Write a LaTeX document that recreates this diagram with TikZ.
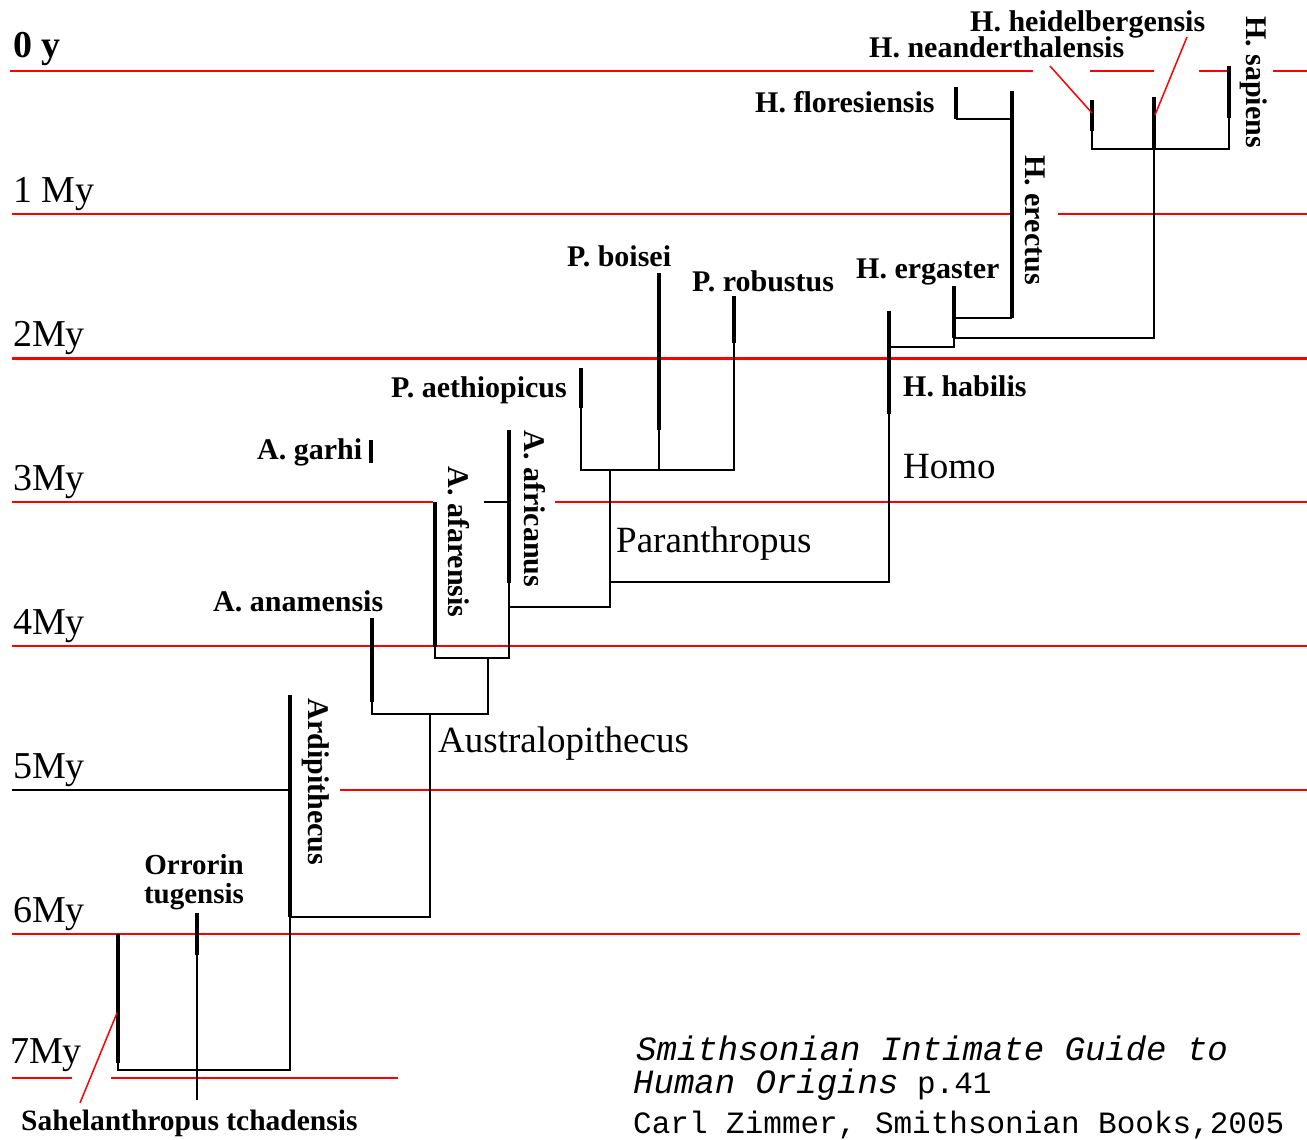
\documentclass[tikz,border=0pt]{standalone}
\usepackage{fontspec}
\setmainfont{Liberation Serif}
\setmonofont{Liberation Mono}
\usetikzlibrary{positioning,calc}
\tikzset{
species/.style  = {font=\bfseries\fontsize{30}{27}\selectfont, inner sep=0pt},
genus/.style    = {font=\fontsize{37}{40}\selectfont, inner sep=0pt, anchor=base west},
era/.style      = {font=\fontsize{38}{40}\selectfont, inner sep=0pt, anchor=base west},
cite/.style     = {font=\ttfamily\fontsize{31}{33}\selectfont, inner sep=0pt, anchor=base west},
tmp/.style      = {coordinate},
bar/.style      = {line width=4.5pt},
link/.style     = {line width=2pt},
timeline/.style = {red, line width=2pt},
pointer/.style  = {red, line width=1.5pt}
}

\begin{document}
\begin{tikzpicture}[x=1pt, y=-1pt]
  \useasboundingbox (0,0) rectangle (1307,1140);

  % time scale
  \draw [timeline] (10,71) -- (1033,71) (1090,71) -- (1154,71) (1199,71) -- (1227,71) (1273,71) -- (1307,71);
  \draw [timeline] (12,214) -- (1010,214) (1058,214) -- (1307,214);
  \draw [timeline, line width=3pt] (12,358) -- (1307,358);
  \draw [timeline] (12,502) -- (433,502) (555,502) -- (1307,502);
  \draw [timeline] (12,646) -- (1307,646);
  \draw [timeline] (340,790) -- (1307,790);
  \draw [timeline] (12,934) -- (1300,934);
  \draw [timeline] (12,1078) -- (72,1078) (111,1078) -- (398,1078);

  \node [era, font=\bfseries\fontsize{38}{40}\selectfont] (era0) at (13,58) {0 y};
  \foreach \t/\lab in {1/1 My, 2/2My, 3/3My, 4/4My, 5/5My, 6/6My}
    \node [era] (era\t) at (13, 58+144*\t) {\lab};
  \node [era] (era7) at (10,1063) {7My};

  % branch points
  \node [tmp] (sahT) at (118,934) {};
  \node [tmp] (sahM) at (118,1063) {};
  \node [tmp] (sahB) at (118,1070) {};
  \node [tmp] (orrT) at (197,913) {};
  \node [tmp] (orrM) at (197,955) {};
  \node [tmp] (orrB) at (197,1100) {};
  \node [tmp] (ardT) at (290,695) {};
  \node [tmp] (ardB) at (290,917) {};
  \node [tmp] (ardL) at (290,790) {};
  \node [tmp] (ardE) at (12,790) {};
  \node [tmp] (ausJ) at (430,714) {};
  \node [tmp] (anaT) at (372,618) {};
  \node [tmp] (anaM) at (372,702) {};
  \node [tmp] (anaB) at (372,714) {};
  \node [tmp] (garT) at (371,440) {};
  \node [tmp] (garB) at (371,463) {};
  \node [tmp] (afaJ) at (488,658) {};
  \node [tmp] (afaT) at (435,502) {};
  \node [tmp] (afaM) at (435,647) {};
  \node [tmp] (afaB) at (435,658) {};
  \node [tmp] (afcT) at (509,430) {};
  \node [tmp] (afcM) at (509,583) {};
  \node [tmp] (afcB) at (509,658) {};
  \node [tmp] (afcS) at (484,502) {};
  \node [tmp] (afcK) at (509,502) {};
  \node [tmp] (afcJ) at (509,607) {};
  \node [tmp] (parJ) at (610,470) {};
  \node [tmp] (homJ) at (610,582) {};
  \node [tmp] (aetT) at (581,368) {};
  \node [tmp] (aetM) at (581,408) {};
  \node [tmp] (aetB) at (581,470) {};
  \node [tmp] (boiT) at (659,273) {};
  \node [tmp] (boiM) at (659,430) {};
  \node [tmp] (boiB) at (659,470) {};
  \node [tmp] (robT) at (734,296) {};
  \node [tmp] (robM) at (734,343) {};
  \node [tmp] (robB) at (734,470) {};
  \node [tmp] (habT) at (889,311) {};
  \node [tmp] (habM) at (889,414) {};
  \node [tmp] (habJ) at (889,347) {};
  \node [tmp] (ergT) at (954,286) {};
  \node [tmp] (ergM) at (954,338) {};
  \node [tmp] (ergJ) at (954,318) {};
  \node [tmp] (ereT) at (1012,91) {};
  \node [tmp] (ereB) at (1012,318) {};
  \node [tmp] (ereJ) at (1012,119) {};
  \node [tmp] (floT) at (956,87) {};
  \node [tmp] (floB) at (956,119) {};
  \node [tmp] (heiT) at (1154,97) {};
  \node [tmp] (heiB) at (1154,149) {};
  \node [tmp] (neaT) at (1092,100) {};
  \node [tmp] (neaM) at (1092,131) {};
  \node [tmp] (neaB) at (1092,149) {};
  \node [tmp] (sapT) at (1229,66) {};
  \node [tmp] (sapM) at (1229,118) {};
  \node [tmp] (sapB) at (1229,149) {};
  \node [tmp] (neaQ) at (1050,66) {};
  \node [tmp] (neaP) at (1092,113) {};
  \node [tmp] (heiQ) at (1187,37) {};
  \node [tmp] (heiP) at (1155,115) {};
  \node [tmp] (sahQ) at (80,1103) {};
  \node [tmp] (sahP) at (117,1013) {};

  % labels
  \node [species, anchor=base west] (heid) at (970,32)   {H. heidelbergensis};
  \node [species, anchor=base west] (nean) at (869,58)   {H. neanderthalensis};
  \node [species, rotate=-90]       (sapi) at (1254,82)  {H. sapiens};
  \node [species, anchor=base west] (flor) at (755,113)  {H. floresiensis};
  \node [species, rotate=-90]       (erec) at (1035,220) {H. erectus};
  \node [species, anchor=base west] (erga) at (856,278)  {H. ergaster};
  \node [species, anchor=base west] (habi) at (903,396)  {H. habilis};
  \node [genus]                     (homo) at (903,478)  {Homo};
  \node [species, anchor=base west] (bois) at (567,266)  {P. boisei};
  \node [species, anchor=base west] (robu) at (692,291)  {P. robustus};
  \node [species, anchor=base west] (aeth) at (391,397)  {P. aethiopicus};
  \node [genus]                     (para) at (616,552)  {Paranthropus};
  \node [species, anchor=base west] (garh) at (257,459)  {A. garhi};
  \node [species, rotate=-90]       (afar) at (459,542)  {A. afarensis};
  \node [species, rotate=-90]       (afri) at (535,509)  {A. africanus};
  \node [species, anchor=base west] (anam) at (213,611)  {A. anamensis};
  \node [genus]                     (aust) at (438,752)  {Australopithecus};
  \node [species, rotate=-90]       (ardi) at (316,782)  {Ardipithecus};
  \node [species, align=center, font=\bfseries\fontsize{29}{29}\selectfont] (orro) at (194,882) {Orrorin\\tugensis};
  \node [species, anchor=base west, font=\bfseries\fontsize{29.5}{30}\selectfont] (sahe) at (21,1130) {Sahelanthropus tchadensis};

  \node [cite, font=\ttfamily\itshape\fontsize{34}{36}\selectfont] (cite1) at (636,1060) {Smithsonian Intimate Guide to};
  \node [cite] (cite2) at (633,1093) {{\itshape\fontsize{34}{36}\selectfont Human Origins} p.41};
  \node [cite] (cite3) at (633,1133) {Carl Zimmer, Smithsonian Books,2005};

  % tree
  \draw [link, line width=2.5pt] (ardE) -- (ardL);
  \draw [bar] (sahT) -- (sahM);
  \draw [link] (sahM) -- (sahB) -| (ardB);
  \draw [bar] (orrT) -- (orrM);
  \draw [link] (orrM) -- (orrB);
  \draw [bar] (ardT) -- (ardB);
  \draw [link] (ardB) -| (ausJ);
  \draw [bar] (anaT) -- (anaM);
  \draw [link] (anaM) -- (anaB) -| (afaJ);
  \draw [bar] (garT) -- (garB);
  \draw [bar] (afaT) -- (afaM);
  \draw [bar] (afcT) -- (afcM);
  \draw [link] (afaM) -- (afaB) -- (afcB) -- (afcM);
  \draw [link] (afcS) -- (afcK);
  \draw [link] (afcJ) -| (parJ);
  \draw [bar] (aetT) -- (aetM);
  \draw [bar] (boiT) -- (boiM);
  \draw [bar] (robT) -- (robM);
  \draw [link] (aetM) -- (aetB) -- (robB) -- (robM);
  \draw [link] (boiM) -- (boiB);
  \draw [link] (homJ) -| (habM);
  \draw [bar] (habT) -- (habM);
  \draw [link] (habJ) -| (ergM);
  \draw [bar] (ergT) -- (ergM);
  \draw [link] (ergJ) -- (ereB);
  \draw [link] (ergM) -| (heiB);
  \draw [bar] (ereT) -- (ereB);
  \draw [bar] (floT) -- (floB);
  \draw [link] (floB) -- (ereJ);
  \draw [bar] (heiT) -- (heiB);
  \draw [bar] (neaT) -- (neaM);
  \draw [bar] (sapT) -- (sapM);
  \draw [link] (neaM) -- (neaB) -- (sapB) -- (sapM);

  \draw [pointer] (neaQ) -- (neaP);
  \draw [pointer] (heiQ) -- (heiP);
  \draw [pointer] (sahQ) -- (sahP);
\end{tikzpicture}
\end{document}
